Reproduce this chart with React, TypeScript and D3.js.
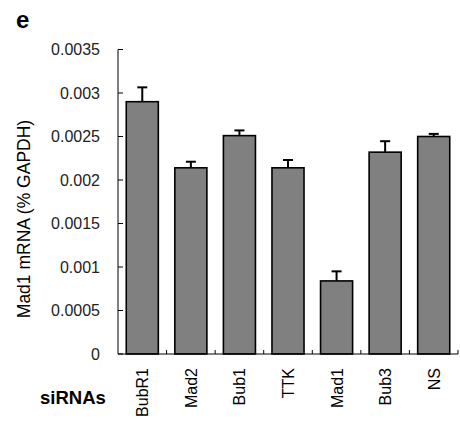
import React, { useEffect, useRef } from 'react'
import * as d3 from 'd3'

const categories = ['BubR1', 'Mad2', 'Bub1', 'TTK', 'Mad1', 'Bub3', 'NS']
const values = [0.0029, 0.00214, 0.00251, 0.00214, 0.00084, 0.00232, 0.0025]
const errors = [0.000165, 0.00007, 0.00006, 0.00009, 0.00011, 0.000126, 0.00003]
const yTicks = [0, 0.0005, 0.001, 0.0015, 0.002, 0.0025, 0.003, 0.0035]

const App = () => {
  const svgRef = useRef<SVGSVGElement>(null)

  useEffect(() => {
    const width = 460
    const height = 421
    const left = 118
    const right = 458
    const top = 49.5
    const bottom = 354
    const font = 'Liberation Sans, Arial, sans-serif'

    const svg = d3.select(svgRef.current)
    svg.selectAll('*').remove()
    svg.attr('width', width).attr('height', height)

    const x = d3.scaleBand().domain(categories).range([left, right]).paddingInner(0.34).paddingOuter(0.17)
    const step = (right - left) / categories.length
    const y = d3.scaleLinear().domain([0, 0.0035]).range([bottom, top])

    // bars
    svg
      .selectAll('rect.bar')
      .data(categories)
      .enter()
      .append('rect')
      .attr('class', 'bar')
      .attr('x', (d) => x(d)!)
      .attr('y', (d, i) => y(values[i]))
      .attr('width', x.bandwidth())
      .attr('height', (d, i) => bottom - y(values[i]))
      .attr('fill', '#808080')
      .attr('stroke', '#000')
      .attr('stroke-width', 1.6)

    // error bars (upper only)
    const eb = svg.selectAll('g.err').data(categories).enter().append('g')
    eb.append('line')
      .attr('x1', (d) => x(d)! + x.bandwidth() / 2)
      .attr('x2', (d) => x(d)! + x.bandwidth() / 2)
      .attr('y1', (d, i) => y(values[i]))
      .attr('y2', (d, i) => y(values[i] + errors[i]))
      .attr('stroke', '#000')
      .attr('stroke-width', 2)
    eb.append('line')
      .attr('x1', (d) => x(d)! + x.bandwidth() / 2 - 5)
      .attr('x2', (d) => x(d)! + x.bandwidth() / 2 + 5)
      .attr('y1', (d, i) => y(values[i] + errors[i]))
      .attr('y2', (d, i) => y(values[i] + errors[i]))
      .attr('stroke', '#000')
      .attr('stroke-width', 2)

    // y axis
    svg.append('line').attr('x1', left).attr('x2', left).attr('y1', top).attr('y2', bottom).attr('stroke', '#000')
    svg
      .selectAll('line.ytick')
      .data(yTicks)
      .enter()
      .append('line')
      .attr('x1', left)
      .attr('x2', left + 5)
      .attr('y1', (d) => y(d))
      .attr('y2', (d) => y(d))
      .attr('stroke', '#000')
    svg
      .selectAll('text.ytick')
      .data(yTicks)
      .enter()
      .append('text')
      .text((d) => String(d))
      .attr('x', 100)
      .attr('y', (d) => y(d))
      .attr('dy', '0.35em')
      .attr('text-anchor', 'end')
      .style('font-family', font)
      .style('font-size', '16px')
      .attr('fill', '#222')

    // x axis
    svg.append('line').attr('x1', left).attr('x2', right).attr('y1', bottom).attr('y2', bottom).attr('stroke', '#000')
    svg
      .selectAll('line.xtick')
      .data(d3.range(1, categories.length + 1))
      .enter()
      .append('line')
      .attr('x1', (d) => left + d * step)
      .attr('x2', (d) => left + d * step)
      .attr('y1', bottom)
      .attr('y2', bottom - 4)
      .attr('stroke', '#000')
    svg
      .selectAll('text.xlab')
      .data(categories)
      .enter()
      .append('text')
      .text((d) => d)
      .attr('text-anchor', 'end')
      .attr('transform', (d) => `translate(${x(d)! + x.bandwidth() / 2 + 6},${bottom + 14}) rotate(-90)`)
      .style('font-family', font)
      .style('font-size', '16px')

    // y label
    svg
      .append('text')
      .text('Mad1 mRNA (% GAPDH)')
      .attr('text-anchor', 'middle')
      .attr('transform', `translate(30,219) rotate(-90)`)
      .style('font-family', font)
      .style('font-size', '17.5px')

    svg
      .append('text')
      .text('siRNAs')
      .attr('x', 40)
      .attr('y', 404)
      .style('font-family', font)
      .style('font-size', '18.5px')
      .style('font-weight', 'bold')

    svg
      .append('text')
      .text('e')
      .attr('x', 16)
      .attr('y', 27.5)
      .style('font-family', font)
      .style('font-size', '24px')
      .style('font-weight', 'bold')
  }, [])

  return <svg ref={svgRef} style={{ position: 'absolute', left: 0, top: 0 }}></svg>
}

export default App
